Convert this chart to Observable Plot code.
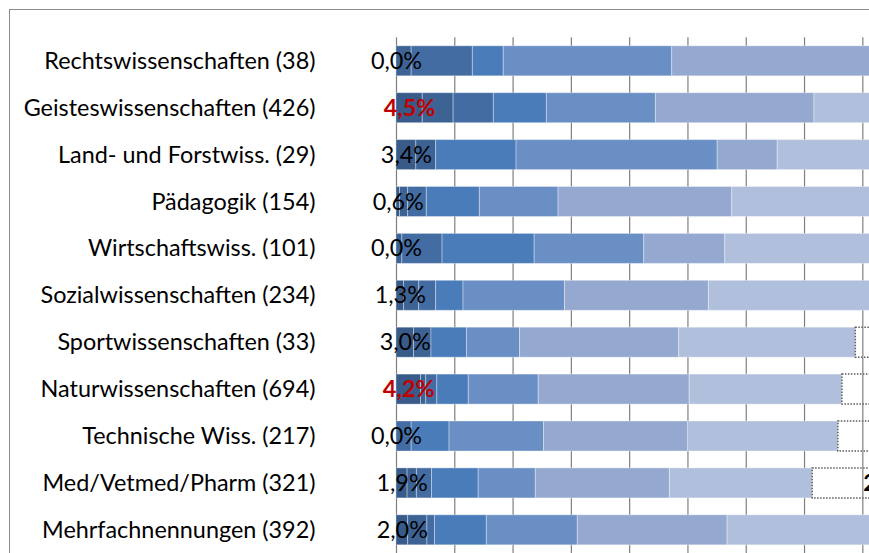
<!DOCTYPE html>
<html><head><meta charset="utf-8">
<script src="https://cdn.jsdelivr.net/npm/d3@7"></script>
<script src="https://cdn.jsdelivr.net/npm/@observablehq/plot@0.6"></script>
<style>
html,body{margin:0;padding:0;background:#fff;overflow:hidden;width:869px;height:553px;}
#frame{position:absolute;left:9px;top:9px;width:2000px;height:2000px;border:1px solid #8c8c8c;}
#chart{position:absolute;left:0;top:0;}
</style></head><body>
<div id="frame"></div><div id="chart"></div>
<script>
const categories = [
  "Rechtswissenschaften (38)", "Geisteswissenschaften (426)", "Land- und Forstwiss. (29)",
  "Pädagogik (154)", "Wirtschaftswiss. (101)", "Sozialwissenschaften (234)",
  "Sportwissenschaften (33)", "Naturwissenschaften (694)", "Technische Wiss. (217)",
  "Med/Vetmed/Pharm (321)", "Mehrfachnennungen (392)"
];
const s1 = [0.0, 4.5, 3.4, 0.6, 0.0, 1.3, 3.0, 4.2, 0.0, 1.9, 2.0];
const s2 = [2.6, 5.3, 3.4, 1.4, 1.0, 2.6, 3.0, 0.9, 0.0, 1.6, 3.3];
const s3 = [10.5, 6.9, 0.0, 3.2, 6.9, 2.9, 0.0, 1.9, 2.6, 2.6, 1.3];
const s4 = [5.3, 9.1, 13.8, 9.1, 15.8, 4.7, 6.1, 5.4, 6.5, 8.0, 8.9];
const s5 = [28.9, 18.7, 34.5, 13.5, 18.8, 17.4, 9.1, 12.0, 16.2, 9.8, 15.6];
const s6 = [36.8, 27.2, 10.3, 29.8, 13.9, 24.7, 27.3, 25.9, 24.7, 23.0, 25.7];
const s7 = [10.5, 20.0, 24.1, 30.5, 32.7, 35.0, 30.3, 26.2, 25.8, 24.5, 30.0];
const s8 = [5.3, 8.3, 10.3, 11.9, 10.9, 11.4, 21.2, 23.5, 24.2, 28.6, 13.2];
const seriesNames = ["1", "2", "3", "4", "5", "6", "7", "8"];
const seriesColors = ["#385b8a", "#3d6395", "#426ca2", "#4a7cb9", "#6a8fc4", "#95a9d0", "#b0c0dc", "transparent"];
const gridTicks = [0, 10, 20, 30, 40, 50, 60, 70, 80, 90, 100];

const allSeries = [s1, s2, s3, s4, s5, s6, s7, s8];
const long = [];
categories.forEach((c, i) => allSeries.forEach((s, k) => long.push({cat: c, series: seriesNames[k], value: s[i]})));
const rows = categories.map((c, i) => ({cat: c, first: s1[i], last: s8[i]}));
const fmt = v => v.toFixed(1).replace(".", ",") + "%";
const FS = 23.4;

const chart = Plot.plot({
  width: 1000, height: 600,
  marginLeft: 396, marginRight: 21.1, marginTop: 37.35, marginBottom: 46.75,
  style: {maxWidth: "none", background: "transparent", fontFamily: "Lato, 'Open Sans', sans-serif", fontSize: FS + "px", color: "#000", overflow: "visible"},
  x: {domain: [0, 100], axis: null},
  y: {domain: categories, paddingInner: 0.36, paddingOuter: 0.18, round: false, tickSize: 0, tickPadding: 81, label: null},
  color: {domain: seriesNames, range: seriesColors},
  opacity: {domain: [0, 1], range: [0, 1]},
  marks: [
    Plot.ruleX(gridTicks, {stroke: "#7f7f7f", strokeWidth: 1.2}),
    Plot.barX(long, Plot.stackX({x: "value", y: "cat", fill: "series", stroke: "white", strokeOpacity: 0.35, strokeWidth: 1})),
    Plot.barX(long, Plot.stackX({x: "value", y: "cat", fill: "none", stroke: "#5a5a5a", strokeWidth: 1.5, strokeDasharray: "1.5,1.5",
      strokeOpacity: d => d.series === "8" ? 1 : 0})),
    Plot.text(rows.filter(d => d.first < 4), {x: d => d.first / 2, y: "cat", text: d => fmt(d.first), fill: "#000", fontSize: FS}),
    Plot.text(rows.filter(d => d.first >= 4), {x: d => d.first / 2, y: "cat", text: d => fmt(d.first), fill: "#c00000", fontWeight: "bold", fontSize: FS}),
    Plot.text(rows, {x: d => 100 - d.last / 2, y: "cat", text: d => fmt(d.last), fill: "#000", fontWeight: "bold", fontSize: FS})
  ]
});
document.getElementById("chart").appendChild(chart);
</script>
</body></html>
